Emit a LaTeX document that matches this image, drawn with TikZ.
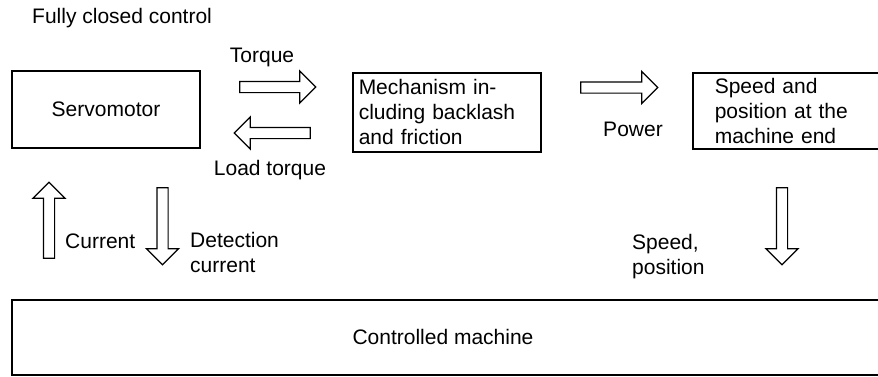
\documentclass[tikz,border=0pt]{standalone}
\usepackage{fontspec}
\setmainfont{Liberation Sans}
\usetikzlibrary{shapes.arrows}
\tikzset{
  box/.style={draw, line width=1.5pt, rectangle, inner sep=0pt},
  blockarrow/.style={single arrow, draw, line width=1.2pt, minimum height=76pt,
    single arrow head extend=10.5pt, inner xsep=0pt, inner ysep=5pt,
    text height=0pt, text depth=0pt, text width=0pt},
  lbl/.style={inner sep=0pt},
  every node/.style={font=\fontsize{21}{25}\selectfont}
}
\begin{document}
\begin{tikzpicture}[x=1pt,y=-1pt]
\useasboundingbox (0,0) rectangle (878,376);
\clip (0,0) rectangle (878,376);
% title
\node[lbl, anchor=base west] (title) at (32,23) {Fully closed control};
% boxes
\node[box, minimum width=188pt, minimum height=77pt] (servo) at (106,109.5) {Servomotor};
\node[box, anchor=north west, minimum width=188pt, minimum height=79pt,
      text width=176pt, inner xsep=6pt, align=left] (mech) at (352,72)
      {Mechanism in-\\cluding backlash\\and friction};
\node[box, anchor=north west, minimum height=76pt, text width=256pt,
      inner xsep=22pt, align=left] (speedbox) at (692,72)
      {Speed and\\position at the\\machine end};
\node[box, anchor=north west, minimum width=900pt, minimum height=75pt] (machine) at (11,299) {};
\node[lbl] (machinetext) at (443,337) {Controlled machine};
% block arrows
\node[blockarrow] (torque) at (275,87) {};
\node[blockarrow, rotate=180] (load) at (275,133) {};
\node[blockarrow, minimum height=77pt] (power) at (616.5,87.5) {};
\node[blockarrow, rotate=90] (current) at (49,223) {};
\node[blockarrow, rotate=-90, minimum height=77pt] (detect) at (162.5,223.5) {};
\node[blockarrow, rotate=-90, minimum height=77pt] (speedarrow) at (782,223.5) {};
% labels
\node[lbl, anchor=base] (torquelbl) at (262,62) {Torque};
\node[lbl, anchor=base] (loadlbl) at (270,175) {Load torque};
\node[lbl, anchor=base] (powerlbl) at (633,136) {Power};
\node[lbl, anchor=base west] (currentlbl) at (65,248) {Current};
\node[lbl, anchor=base west] (detectlbl1) at (190,247) {Detection};
\node[lbl, anchor=base west] (detectlbl2) at (190,272) {current};
\node[lbl, anchor=base west] (speedlbl1) at (632,249) {Speed,};
\node[lbl, anchor=base west] (speedlbl2) at (632,274) {position};
\end{tikzpicture}
\end{document}
